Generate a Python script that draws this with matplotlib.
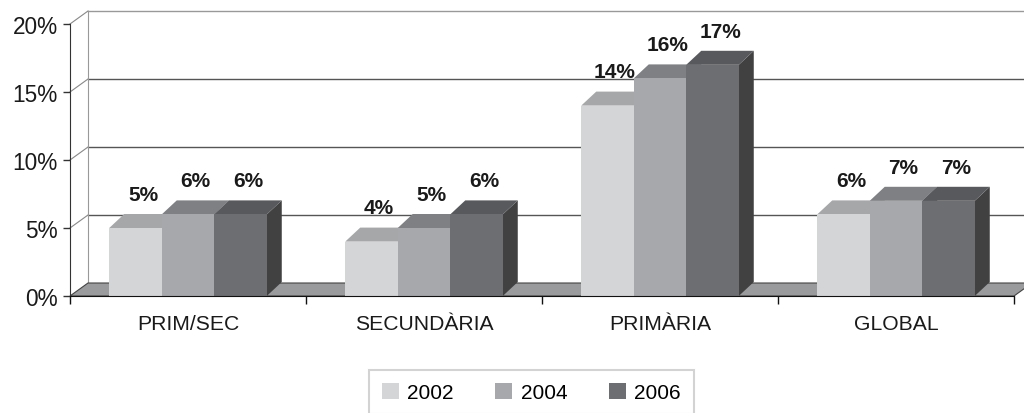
import numpy as np
import matplotlib.pyplot as plt
from matplotlib.patches import Polygon, Patch

plt.rcParams['font.family'] = ['Liberation Sans', 'DejaVu Sans']

# data
categories = ['PRIM/SEC', 'SECUNDÀRIA', 'PRIMÀRIA', 'GLOBAL']
years = ['2002', '2004', '2006']
v2002 = [5, 4, 14, 6]
v2004 = [6, 5, 16, 7]
v2006 = [6, 6, 17, 7]
yticks = [0, 5, 10, 15, 20]

series = [v2002, v2004, v2006]
front_cols = ['#d4d5d7', '#a7a8ab', '#6d6e71']
top_cols = ['#a6a7a9', '#7f8083', '#58595c']
side_cols = ['#9d9ea0', '#737477', '#414142']

# 3d offsets (data units)
wall_dx, wall_dy = 18 / 236, 13 / 13.6
bar_dx, bar_dy = 15 / 236, 14 / 13.6
bar_w = 0.2225

fig = plt.figure(figsize=(10.24, 4.14), dpi=100)
ax = fig.add_axes([70 / 1024, 117 / 414, 944 / 1024, 272 / 414])
ax.set_xlim(-0.5, 3.5)
ax.set_ylim(0, 20)
ax.patch.set_visible(False)

x0, x1 = -0.5, 3.5

# back wall gridlines + connectors
for t in yticks[1:]:
    ax.plot([x0 + wall_dx, x1 + wall_dx + 0.2], [t + wall_dy, t + wall_dy],
            color='#555555' if t < 20 else '#999999', lw=1, zorder=0.5, clip_on=False)
    ax.plot([x0, x0 + wall_dx], [t, t + wall_dy], color='#888888', lw=0.8,
            zorder=0.5, clip_on=False)
ax.plot([x0 + wall_dx, x0 + wall_dx], [wall_dy, 20 + wall_dy], color='#999999',
        lw=0.8, zorder=0.5, clip_on=False)

# floor
floor = Polygon([[x0, 0], [x1, 0], [x1 + wall_dx, wall_dy], [x0 + wall_dx, wall_dy]],
                closed=True, facecolor='#9a9b9d', edgecolor='#444444', lw=0.8,
                zorder=1, clip_on=False)
ax.add_patch(floor)

# bars
xs = np.arange(len(categories))
for i in range(len(categories)):
    for j, vals in enumerate(series):
        v = vals[i]
        left = xs[i] + (j - 1.5) * bar_w
        right = left + bar_w
        z = 2 + i * 3 + j
        front = Polygon([[left, 0], [right, 0], [right, v], [left, v]],
                        facecolor=front_cols[j], edgecolor='none', zorder=z + 0.2)
        top = Polygon([[left, v], [right, v], [right + bar_dx, v + bar_dy],
                       [left + bar_dx, v + bar_dy]],
                      facecolor=top_cols[j], edgecolor='none', zorder=z + 0.1)
        side = Polygon([[right, 0], [right + bar_dx, bar_dy], [right + bar_dx, v + bar_dy],
                        [right, v]],
                       facecolor=side_cols[j], edgecolor='none', zorder=z)
        for p in (side, top, front):
            p.set_clip_on(False)
            ax.add_patch(p)
        ax.text(left + bar_w / 2 + bar_dx / 2, v + bar_dy + 0.75, f'{v}%',
                ha='center', va='bottom', fontsize=15, fontweight='bold',
                color='#1a1a1a', zorder=50)

# axes
for s in ['top', 'right']:
    ax.spines[s].set_visible(False)
ax.spines['left'].set_color('#333333')
ax.spines['bottom'].set_color('#111111')
ax.spines['left'].set_zorder(40)
ax.spines['bottom'].set_zorder(40)

ax.set_yticks(yticks)
ax.set_yticklabels([f'{t}%' for t in yticks])
ax.tick_params(axis='y', length=5, width=1, pad=4, labelsize=16.3,
               color='#333333', labelcolor='#1a1a1a')

ax.set_xticks([x0 + k for k in range(len(categories) + 1)])
ax.set_xticklabels([''] * (len(categories) + 1))
ax.set_xticks(xs, minor=True)
ax.set_xticklabels(categories, minor=True)
ax.tick_params(axis='x', which='major', length=6, width=1, color='#111111')
ax.tick_params(axis='x', which='minor', length=0, pad=13, labelsize=15.2,
               labelcolor='#1a1a1a')

# legend
handles = [Patch(facecolor=front_cols[j], edgecolor='none', label=years[j])
           for j in range(3)]
leg = fig.legend(handles=handles, loc='upper center', bbox_to_anchor=(0.519, 1 - 371 / 414),
                 ncol=3, fontsize=15, frameon=True, fancybox=False,
                 handlelength=0.82, handleheight=0.82, handletextpad=0.4,
                 columnspacing=2.0, borderpad=0.6, borderaxespad=0)
leg.get_frame().set_edgecolor('#c8c8c8')
leg.get_frame().set_linewidth(1.5)

fig.savefig('out.png', dpi=100)
